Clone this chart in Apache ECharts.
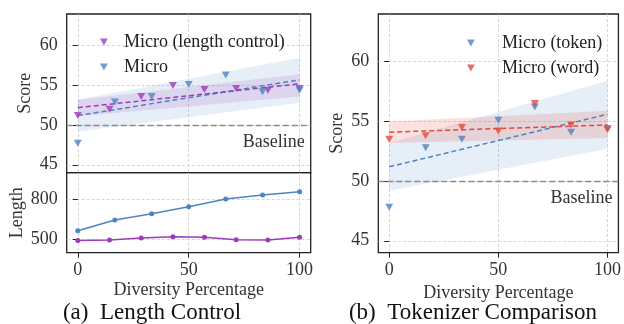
<!DOCTYPE html>
<html>
<head>
<meta charset="utf-8">
<script src="https://cdn.jsdelivr.net/npm/echarts@6/dist/echarts.min.js"></script>
<style>
  html, body { margin: 0; padding: 0; background: #fff; }
  #chart { width: 624px; height: 324px; }
</style>
</head>
<body>
<div id="chart"></div>
<script>
// x positions
const xsLenCtrl = [0, 14.3, 28.6, 42.9, 57.1, 71.4, 85.7, 100];
const xsSeven = [0, 16.7, 33.3, 50, 66.7, 83.3, 100];
const fitX = [0, 100];

// (a) scores
const lenCtrlScore = [51.2, 52.0, 53.6, 55.0, 54.5, 54.6, 54.4, 54.6];
const microScore = [47.7, 52.9, 53.6, 55.1, 56.3, 54.2, 54.4];
const lenCtrlFit = [52.2, 55.2];
const lenCtrlLo = [51.1, 53.6];
const lenCtrlHi = [53.2, 56.4];
const microFit = [51.2, 55.7];
const microLo = [49.2, 52.8];
const microHi = [53.2, 58.5];

// (a) lengths
const lenCtrlLength = [492, 495, 510, 520, 515, 497, 495, 515];
const microLength = [565, 645, 692, 745, 802, 832, 857];

// (b) scores
const tokenScore = [47.8, 52.8, 53.5, 55.1, 56.2, 54.1, 54.4];
const wordScore = [53.5, 53.8, 54.5, 54.2, 56.5, 54.7, 54.3];
const tokenFit = [51.2, 55.6];
const tokenLo = [49.2, 52.7];
const tokenHi = [53.2, 58.4];
const wordFit = [54.1, 54.7];
const wordLo = [53.2, 53.6];
const wordHi = [55.0, 55.9];

const baseline = 50;
const scoreTicks = [45, 50, 55, 60];
const lengthTicks = [500, 800];
const xTicks = [0, 50, 100];

const BLUE = "#4c84c4";
const PURPLE = "#9b3db8";
const RED = "#e5483b";
const FONT = "Liberation Serif";
const INK = "#222";

const zip = (xs, ys) => xs.map((x, i) => [x, ys[i]]);
const triDown = "path://M0,0 L10,0 L5,9 Z";

function gridLine() {
    return { show: true, lineStyle: { color: "#cccccc", width: 0.8, type: [3, 2] } };
}

function xAxis(gridIndex, labels) {
    return {
        type: "value", gridIndex, min: -5, max: 105,
        axisLine: { show: false },
        axisTick: { show: labels, length: 5, lineStyle: { color: INK, width: 1 }, customValues: xTicks },
        axisLabel: { show: labels, customValues: xTicks, margin: 9, color: "#333", fontFamily: FONT, fontSize: 18 },
        splitLine: gridLine(),
        name: labels ? "Diversity Percentage" : "",
        nameLocation: "middle", nameGap: 29,
        nameTextStyle: { color: "#333", fontFamily: FONT, fontSize: 18 },
    };
}

function yAxis(gridIndex, min, max, ticks, name, gap) {
    return {
        type: "value", gridIndex, min, max,
        axisLine: { show: false },
        axisTick: { show: true, length: 5, lineStyle: { color: INK, width: 1 }, customValues: ticks },
        axisLabel: { customValues: ticks, margin: 9, color: "#333", fontFamily: FONT, fontSize: 18 },
        splitLine: gridLine(),
        name, nameLocation: "middle", nameGap: gap,
        nameTextStyle: { color: "#333", fontFamily: FONT, fontSize: 18 },
    };
}

// confidence band as one polygon, points placed through the axes
function band(name, axis, lo, hi, color, withBaseline) {
    const s = {
        name, type: "custom", xAxisIndex: axis, yAxisIndex: axis,
        data: fitX.map((x, i) => [x, lo[i], hi[i]]),
        encode: { x: 0, y: [1, 2] },
        silent: true, z: 1, clip: true,
        renderItem(params, api) {
            if (params.dataIndex !== 0) return null;
            const upper = fitX.map((x, i) => api.coord([x, hi[i]]));
            const lower = fitX.map((x, i) => api.coord([x, lo[i]])).reverse();
            return {
                type: "polygon",
                shape: { points: upper.concat(lower) },
                style: { fill: color },
            };
        },
    };
    if (withBaseline) {
        s.markLine = {
            silent: true, symbol: "none", z: 3,
            lineStyle: { color: "#8a8a8a", width: 1.3, type: [6, 3] },
            label: {
                show: true, position: "insideEndBottom", formatter: "Baseline", distance: [6, 8],
                color: "#333", fontFamily: FONT, fontSize: 18,
            },
            data: [{ yAxis: baseline }],
        };
    }
    return s;
}

function fit(name, axis, ys, color) {
    return {
        name, type: "line", xAxisIndex: axis, yAxisIndex: axis,
        data: zip(fitX, ys), symbol: "none", silent: true, z: 4,
        lineStyle: { color, width: 1.5, type: [5, 3] },
    };
}

function dots(name, axis, xs, ys, color) {
    return {
        name, type: "scatter", xAxisIndex: axis, yAxisIndex: axis,
        data: zip(xs, ys), symbol: "triangle", symbolRotate: 180, symbolSize: [8, 7],
        itemStyle: { color }, z: 5,
    };
}

function legend(left, top, names, pad) {
    return {
        orient: "vertical", left, top, itemGap: 7, itemWidth: 8, itemHeight: 7,
        icon: triDown, data: names,
        textStyle: { color: INK, fontFamily: FONT, fontSize: 18, padding: [0, 0, 0, pad] },
    };
}

const chart = echarts.init(document.getElementById("chart"), null, { renderer: "canvas" });

chart.setOption({
    animation: false,
    backgroundColor: "#fff",
    grid: [
        { left: 66.7, top: 14, width: 244, height: 158.7, show: true, borderColor: INK, borderWidth: 1.3 },
        { left: 66.7, top: 172.7, width: 244, height: 80, show: true, borderColor: INK, borderWidth: 1.3 },
        { left: 378.3, top: 14, width: 244.4, height: 238.7, show: true, borderColor: INK, borderWidth: 1.3 },
    ],
    xAxis: [xAxis(0, false), xAxis(1, true), xAxis(2, true)],
    yAxis: [
        yAxis(0, 44, 64, scoreTicks, "Score", 32),
        yAxis(1, 400, 1000, lengthTicks, "Length", 40),
        yAxis(2, 44, 64, scoreTicks, "Score", 32),
    ],
    legend: [
        legend(95, 28, ["Micro (length control)", "Micro"], 11),
        legend(462, 29, ["Micro (token)", "Micro (word)"], 22),
    ],
    series: [
        band("microBand", 0, microLo, microHi, "rgba(76,132,196,0.14)", true),
        band("lenBand", 0, lenCtrlLo, lenCtrlHi, "rgba(155,61,184,0.14)", false),
        fit("microFit", 0, microFit, BLUE),
        fit("lenFit", 0, lenCtrlFit, PURPLE),
        dots("Micro (length control)", 0, xsLenCtrl, lenCtrlScore, PURPLE),
        dots("Micro", 0, xsSeven, microScore, BLUE),

        {
            name: "microLength", type: "line", xAxisIndex: 1, yAxisIndex: 1,
            data: zip(xsSeven, microLength), symbol: "circle", symbolSize: 5,
            lineStyle: { color: BLUE, width: 1.5 }, itemStyle: { color: BLUE },
        },
        {
            name: "lenCtrlLength", type: "line", xAxisIndex: 1, yAxisIndex: 1,
            data: zip(xsLenCtrl, lenCtrlLength), symbol: "circle", symbolSize: 5,
            lineStyle: { color: PURPLE, width: 1.5 }, itemStyle: { color: PURPLE },
        },

        band("tokenBand", 2, tokenLo, tokenHi, "rgba(76,132,196,0.14)", true),
        band("wordBand", 2, wordLo, wordHi, "rgba(229,72,59,0.16)", false),
        fit("tokenFit", 2, tokenFit, BLUE),
        fit("wordFit", 2, wordFit, RED),
        dots("Micro (token)", 2, xsSeven, tokenScore, BLUE),
        dots("Micro (word)", 2, xsSeven, wordScore, RED),
    ],
    graphic: [
        {
            type: "text", style: {
                text: "(a)  Length Control", x: 152, y: 313, align: "center", verticalAlign: "middle",
                fill: "#111", font: "23px 'Liberation Serif'",
            },
        },
        {
            type: "text", style: {
                text: "(b)  Tokenizer Comparison", x: 473, y: 313, align: "center", verticalAlign: "middle",
                fill: "#111", font: "23px 'Liberation Serif'",
            },
        },
    ],
});

window.addEventListener("resize", () => chart.resize());
</script>
</body>
</html>
